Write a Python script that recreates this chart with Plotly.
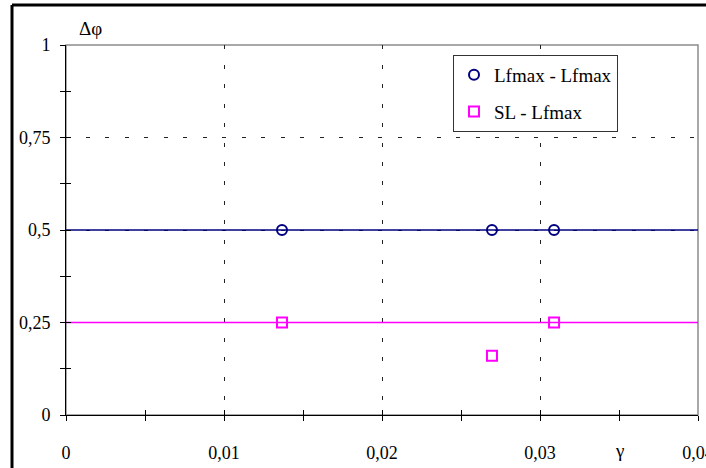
import plotly.graph_objects as go

# Data
gamma = [0.01367, 0.02696, 0.03089]
lf_lf = [0.5, 0.5, 0.5]
sl_lf = [0.25, 0.16, 0.25]
lf_level = 0.5
sl_level = 0.25
x_ticks = [0, 0.01, 0.02, 0.03, 0.04]
x_ticktext = ["0", "0,01", "0,02", "0,03", "0,04"]
x_minor = [0.005, 0.015, 0.025, 0.035]
y_ticks = [0, 0.25, 0.5, 0.75, 1]
y_ticktext = ["0", "0,25", "0,5", "0,75", "1"]
y_minor = [0.125, 0.375, 0.625, 0.875]
x_range = [0, 0.04]
y_range = [0, 1]

NAVY = "#000080"
MAG = "#FF00FF"
FONT = "Liberation Serif, DejaVu Serif, serif"

fig = go.Figure()

fig.add_trace(go.Scatter(x=x_range, y=[lf_level, lf_level], mode="lines",
                         line=dict(color=NAVY, width=1.5), showlegend=False, hoverinfo="skip"))
fig.add_trace(go.Scatter(x=x_range, y=[sl_level, sl_level], mode="lines",
                         line=dict(color=MAG, width=1.5), showlegend=False, hoverinfo="skip"))
fig.add_trace(go.Scatter(x=gamma, y=lf_lf, mode="markers", name="Lfmax - Lfmax", legendgroup="a",
                         marker=dict(symbol="circle-open", size=10, color=NAVY, line=dict(width=2, color=NAVY))))
fig.add_trace(go.Scatter(x=gamma, y=sl_lf, mode="markers", name="SL - Lfmax", legendgroup="b",
                         marker=dict(symbol="square-open", size=10, color=MAG, line=dict(width=2, color=MAG))))
# invisible trace for overlay axes (inner ticks)
fig.add_trace(go.Scatter(x=[0], y=[0], xaxis="x2", yaxis="y2", mode="markers",
                         marker=dict(opacity=0), showlegend=False, hoverinfo="skip"))

grid = dict(showgrid=True, gridcolor="#222222", gridwidth=1, griddash="4px,15.5px")

fig.update_layout(
    width=706, height=468,
    margin=dict(l=66, r=8, t=45, b=53, autoexpand=False),
    paper_bgcolor="white", plot_bgcolor="rgba(0,0,0,0)",
    font=dict(family=FONT, size=18, color="black"),
    xaxis=dict(range=x_range, tickvals=x_ticks, ticktext=x_ticktext,
               showline=True, linecolor="black", linewidth=1,
               ticks="outside", ticklen=5, tickcolor="black", tickwidth=1,
               ticklabelstandoff=16, zeroline=False, automargin=False,
               ticklabeloverflow="allow",
               minor=dict(tickvals=x_minor, ticks="outside",
                          ticklen=5, tickcolor="black", showgrid=False),
               **grid),
    yaxis=dict(range=y_range, tickvals=y_ticks, ticktext=y_ticktext,
               showline=True, linecolor="black", linewidth=1,
               ticks="outside", ticklen=5, tickcolor="black", tickwidth=1,
               ticklabelstandoff=6, zeroline=False, automargin=False,
               ticklabeloverflow="allow",
               minor=dict(tickvals=y_minor, ticks="outside",
                          ticklen=5, tickcolor="black", showgrid=False),
               **grid),
    xaxis2=dict(range=x_range, overlaying="x", anchor="y2", side="bottom",
                tickvals=x_ticks, showticklabels=False, showgrid=False, zeroline=False,
                ticks="inside", ticklen=5, tickcolor="black", automargin=False,
                minor=dict(tickvals=x_minor, ticks="inside",
                           ticklen=5, tickcolor="black", showgrid=False)),
    yaxis2=dict(range=y_range, overlaying="y", anchor="x2", side="left",
                tickvals=y_ticks, showticklabels=False, showgrid=False, zeroline=False,
                ticks="inside", ticklen=5, tickcolor="black", automargin=False,
                minor=dict(tickvals=y_minor, ticks="inside",
                           ticklen=5, tickcolor="black", showgrid=False)),
    legend=dict(x=(453 - 66) / 632, y=(415 - 55) / 370, xanchor="left", yanchor="top",
                bgcolor="white", bordercolor="#333333", borderwidth=1,
                font=dict(family=FONT, size=19), itemwidth=30,
                tracegroupgap=9),
    showlegend=True,
)

fig.add_annotation(x=0.035, xref="x", y=-0.095, yref="paper", text="γ",
                   showarrow=False, font=dict(family=FONT, size=19), yanchor="middle")
fig.add_annotation(x=(90 - 66) / 632, xref="paper", y=(415 - 28) / 370, yref="paper",
                   text="Δφ", showarrow=False, font=dict(family=FONT, size=19),
                   yanchor="middle", xanchor="center")

# grey border of the plot area (top and right edges show under the dashed grid)
fig.add_shape(type="rect", xref="paper", yref="paper", x0=0, x1=1, y0=0, y1=1,
              line=dict(color="#8c8c8c", width=1.5), fillcolor="rgba(0,0,0,0)", layer="below")

# outer frame: only its left and top edges fall inside the window
fx0, fx1 = (12 - 66) / 632, (706 - 66) / 632
fy0, fy1 = (415 - 468) / 370, (415 - 5) / 370
fig.add_shape(type="line", xref="paper", yref="paper", x0=fx0, x1=fx0, y0=fy0, y1=fy1,
              line=dict(color="black", width=3), layer="above")
fig.add_shape(type="line", xref="paper", yref="paper", x0=fx0, x1=fx1, y0=fy1, y1=fy1,
              line=dict(color="black", width=3), layer="above")

fig.write_html("out.html", config={"displayModeBar": False},
               post_script="document.body.style.margin='0';document.body.style.overflow='hidden';")
